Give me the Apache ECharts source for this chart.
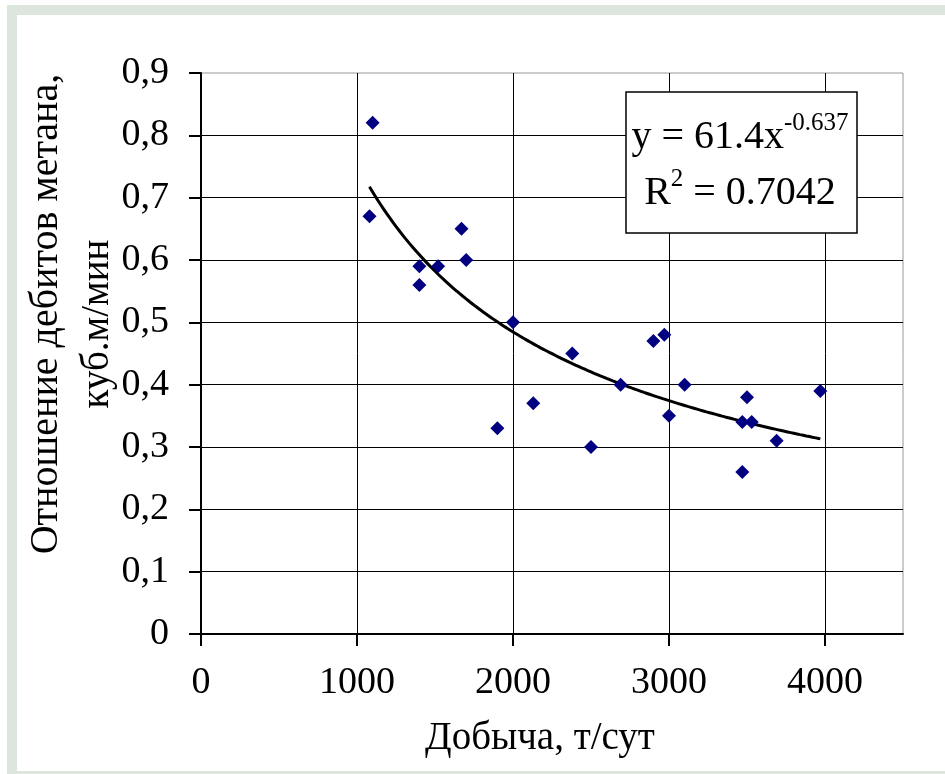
<!DOCTYPE html>
<html>
<head>
<meta charset="utf-8">
<script src="https://cdn.jsdelivr.net/npm/echarts@6/dist/echarts.min.js"></script>
<style>
  html, body { margin: 0; padding: 0; background: #fff; }
  #main { width: 945px; height: 774px; }
</style>
</head>
<body>
<div id="main"></div>
<script>
// production (t/day) and methane ratio
const dobycha = [1100, 1080, 1400, 1400, 1520, 1670, 1700, 2000, 1900, 2130, 2380, 2500,
  2690, 2900, 2970, 3000, 3100, 3500, 3470, 3530, 3470, 3690, 3970]
const otnoshenie = [0.82, 0.67, 0.59, 0.56, 0.59, 0.65, 0.60, 0.50, 0.33, 0.37, 0.45, 0.30,
  0.40, 0.47, 0.48, 0.35, 0.40, 0.38, 0.34, 0.34, 0.26, 0.31, 0.39]

// power trendline shown on the chart: y = a * x^b
const trendA = 61.4
const trendB = -0.637
const trendR2 = 0.7042

const font = 'Liberation Serif, Times New Roman, serif'

function main() {
  var chart = echarts.init(document.getElementById('main'))

  let points = dobycha.map((x, i) => [x, otnoshenie[i]])

  let xMin = Math.min(...dobycha)
  let xMax = Math.max(...dobycha)
  let trend = []
  for (let x = xMin; x < xMax; x += 40) trend.push([x, trendA * Math.pow(x, trendB)])
  trend.push([xMax, trendA * Math.pow(xMax, trendB)])

  let frame = '#dde6dc'

  let option = {
    animation: false,
    backgroundColor: '#fff',
    grid: {
      left: 201, right: 42, top: 73, bottom: 140,
      show: true, borderColor: '#999', borderWidth: 1
    },
    xAxis: {
      type: 'value',
      min: 0, max: 4500, interval: 1000,
      axisLine: { show: true, onZero: false, lineStyle: { color: '#000', width: 2 } },
      axisTick: { show: true, inside: false, length: 12, lineStyle: { color: '#000', width: 2 } },
      axisLabel: {
        margin: 30, color: '#000', fontFamily: font, fontSize: 38,
        showMaxLabel: false,
        formatter: v => v === 4500 ? '' : String(v)
      },
      splitLine: { show: true, showMinLine: false, showMaxLine: false, lineStyle: { color: '#000', width: 1 } }
    },
    yAxis: {
      type: 'value',
      min: 0, max: 0.9, interval: 0.1,
      axisLine: { show: true, onZero: false, lineStyle: { color: '#000', width: 2 } },
      axisTick: { show: true, inside: false, length: 12, lineStyle: { color: '#000', width: 2 } },
      axisLabel: {
        margin: 32, color: '#000', fontFamily: font, fontSize: 38,
        formatter: v => v === 0 ? '0' : v.toFixed(1).replace('.', ',')
      },
      splitLine: { show: true, showMinLine: false, showMaxLine: false, lineStyle: { color: '#000', width: 1 } }
    },
    series: [
      {
        type: 'scatter',
        data: points,
        symbol: 'diamond',
        symbolSize: 14,
        itemStyle: { color: '#000080', opacity: 1 },
        z: 3
      },
      {
        type: 'line',
        data: trend,
        showSymbol: false,
        smooth: true,
        lineStyle: { color: '#000', width: 3 },
        z: 2
      }
    ],
    graphic: [
      // light green frame
      { type: 'rect', shape: { x: 7, y: 5, width: 938, height: 10 }, style: { fill: frame }, z: -10 },
      { type: 'rect', shape: { x: 7, y: 5, width: 10, height: 769 }, style: { fill: frame }, z: -10 },
      { type: 'rect', shape: { x: 7, y: 771, width: 938, height: 3 }, style: { fill: frame }, z: -10 },
      // equation box
      {
        type: 'rect', shape: { x: 626, y: 92, width: 231, height: 141 },
        style: { fill: '#fff', stroke: '#000', lineWidth: 1.5 }, z: 100
      },
      {
        type: 'text', x: 740, y: 137, z: 101,
        style: {
          text: '{a|y = ' + trendA + 'x}{s|' + trendB + '}',
          align: 'center', verticalAlign: 'middle',
          rich: {
            a: { fontFamily: font, fontSize: 40, lineHeight: 52, fill: '#000' },
            s: { fontFamily: font, fontSize: 25, lineHeight: 25, verticalAlign: 'top', fill: '#000' }
          }
        }
      },
      {
        type: 'text', x: 740, y: 193, z: 101,
        style: {
          text: '{a|R}{s|2}{a| = ' + trendR2 + '}',
          align: 'center', verticalAlign: 'middle',
          rich: {
            a: { fontFamily: font, fontSize: 40, lineHeight: 52, fill: '#000' },
            s: { fontFamily: font, fontSize: 25, lineHeight: 25, verticalAlign: 'top', fill: '#000' }
          }
        }
      },
      // axis titles
      {
        type: 'text', x: 540, y: 739,
        style: { text: 'Добыча, т/сут', font: '39px ' + font, fill: '#000', align: 'center', verticalAlign: 'middle' }
      },
      {
        type: 'text', x: 46, y: 314, rotation: Math.PI / 2,
        style: { text: 'Отношение дебитов метана,', font: '40px ' + font, fill: '#000', align: 'center', verticalAlign: 'middle' }
      },
      {
        type: 'text', x: 98, y: 324, rotation: Math.PI / 2,
        style: { text: 'куб.м/мин', font: '39px ' + font, fill: '#000', align: 'center', verticalAlign: 'middle' }
      }
    ]
  }

  chart.setOption(option)
}

try { main() } catch (err) { console.error(err) }
</script>
</body>
</html>
